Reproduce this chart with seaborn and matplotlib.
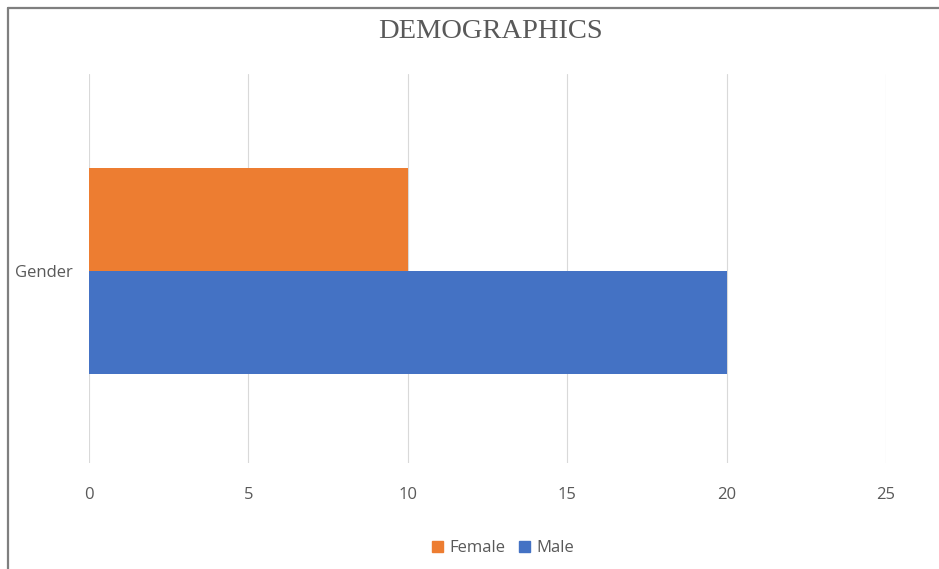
import matplotlib
matplotlib.use("Agg")
import matplotlib.pyplot as plt
import seaborn as sns
import pandas as pd
from matplotlib.patches import Rectangle

# data
categories = ["Gender"]
groups = ["Female", "Male"]
counts = [10, 20]
colors = ["#ED7D31", "#4472C4"]

df = pd.DataFrame({
    "category": categories * len(groups),
    "group": groups,
    "count": counts,
})

sns.set_style("white")
plt.rcParams["font.family"] = ["Open Sans", "DejaVu Sans"]

fig = plt.figure(figsize=(9.39, 5.69), dpi=100)
ax = fig.add_axes([0.0948, 0.1863, 0.8488, 0.6837])

sns.barplot(data=df, x="count", y="category", hue="group", hue_order=groups,
            palette=colors, orient="h", width=0.8, saturation=1,
            linewidth=0, ax=ax)

ax.set_xlim(0, 25)
ax.set_xticks([0, 5, 10, 15, 20, 25])
ax.set_ylim(0.745, -0.765)
ax.grid(axis="x", color="#D9D9D9", linewidth=0.8)
ax.set_axisbelow(True)
for s in ax.spines.values():
    s.set_visible(False)
ax.set_xlabel("")
ax.set_ylabel("")
ax.tick_params(axis="both", length=0, colors="#595959", labelsize=12)
ax.tick_params(axis="x", pad=17)
ax.tick_params(axis="y", pad=12)

ax.legend_.remove()
handles = [Rectangle((0, 0), 1, 1, color=c) for c in colors]
fig.legend(handles, groups, loc="center", bbox_to_anchor=(0.536, 0.037),
           ncol=2, frameon=False, fontsize=12, handlelength=0.65,
           handleheight=0.65, handletextpad=0.4, columnspacing=0.8,
           labelcolor="#595959")

fig.text(0.522, 0.945, "DEMOGRAPHICS", ha="center", va="center",
         fontsize=20.5, color="#595959", family="Liberation Serif")

# outer frame (top and left edges visible)
fig.add_artist(plt.Line2D([7.5 / 939, 1], [1 - 7.5 / 569] * 2,
                          color="#7F7F7F", linewidth=1.6, transform=fig.transFigure))
fig.add_artist(plt.Line2D([7.5 / 939] * 2, [0, 1 - 7.5 / 569],
                          color="#7F7F7F", linewidth=1.6, transform=fig.transFigure))

fig.savefig("out.png", dpi=100, facecolor="white")
